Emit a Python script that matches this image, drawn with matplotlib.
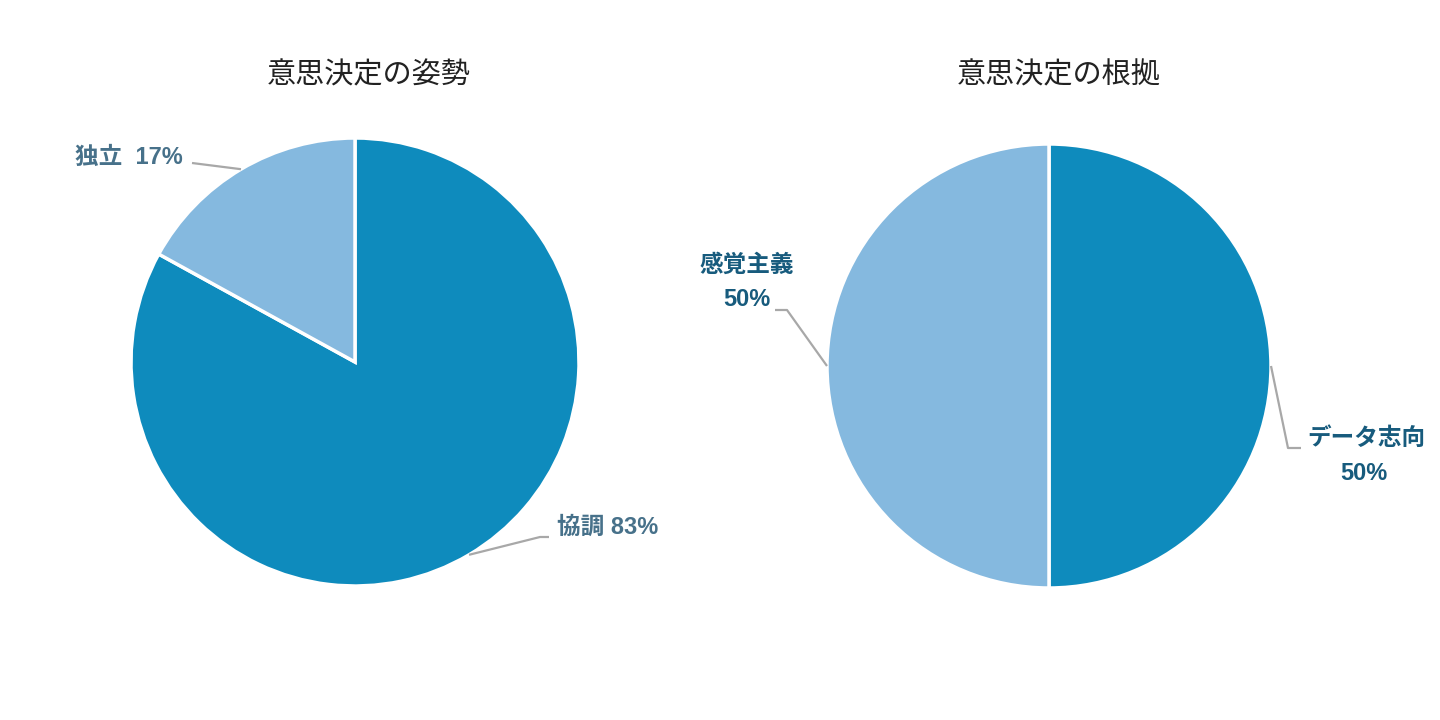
import numpy as np
import matplotlib
matplotlib.use("Agg")
import matplotlib.pyplot as plt
from matplotlib.lines import Line2D

plt.rcParams['font.family'] = ['Noto Sans CJK JP', 'DejaVu Sans']
label_font = ['Liberation Sans', 'Noto Sans CJK JP']

# data
titles = ["意思決定の姿勢", "意思決定の根拠"]
left_labels = ["協調", "独立"]
left_values = [83, 17]
right_labels = ["データ志向", "感覚主義"]
right_values = [50, 50]

dark = "#0e8bbd"
light = "#85b9df"
line_col = "#a8a8a8"

W, H = 1440, 720
fig = plt.figure(figsize=(14.4, 7.2), dpi=100)
fig.patch.set_facecolor("white")


def px(x, y):
    # figure pixel (top-left origin) -> figure fraction
    return x / W, 1 - y / H


def make_axes(cx, cy, r):
    ax = fig.add_axes([(cx - r) / W, (H - cy - r) / H, 2 * r / W, 2 * r / H])
    return ax


def draw_pie(ax, values):
    wedges, _ = ax.pie(values, colors=[dark, light], startangle=90,
                       counterclock=False, radius=1,
                       wedgeprops=dict(edgecolor="white", linewidth=2.5))
    ax.set_xlim(-1, 1)
    ax.set_ylim(-1, 1)
    ax.set_aspect("equal")
    ax.axis("off")
    return wedges


def leader(ax, wedge, pts):
    # line from middle of wedge edge through given figure pixel points
    mid = np.deg2rad((wedge.theta1 + wedge.theta2) / 2)
    start = ax.transData.transform((np.cos(mid), np.sin(mid)))
    xs = [start[0] / W] + [p[0] / W for p in pts]
    ys = [start[1] / H] + [1 - p[1] / H for p in pts]
    fig.add_artist(Line2D(xs, ys, transform=fig.transFigure, color=line_col,
                          lw=1.6, solid_capstyle="butt"))


def label(x, y, s, color, ha="left"):
    fig.text(*px(x, y), s, ha=ha, va="center", fontsize=17,
             fontweight="bold", color=color, family=label_font)


# left pie
ax1 = make_axes(355, 362, 224)
w1 = draw_pie(ax1, left_values)
fig.text(*px(369, 75), titles[0], ha="center", va="center", fontsize=21,
         color="#222222")
lc = "#47718a"
leader(ax1, w1[1], [(192, 163)])
label(75, 157, f"{left_labels[1]}  {left_values[1]}%", lc)
leader(ax1, w1[0], [(540, 537), (549, 537)])
label(557, 527, f"{left_labels[0]} {left_values[0]}%", lc)

# right pie
ax2 = make_axes(1049, 366, 222)
w2 = draw_pie(ax2, right_values)
fig.text(*px(1059, 75), titles[1], ha="center", va="center", fontsize=21,
         color="#222222")
rc = "#175b7d"
leader(ax2, w2[1], [(787, 310), (775, 310)])
label(747, 265, right_labels[1], rc, "center")
label(747, 299, f"{right_values[1]}%", rc, "center")
leader(ax2, w2[0], [(1288, 448), (1301, 448)])
label(1366, 438, right_labels[0], rc, "center")
label(1364, 473, f"{right_values[0]}%", rc, "center")

fig.savefig("out.png", dpi=100, facecolor="white")
